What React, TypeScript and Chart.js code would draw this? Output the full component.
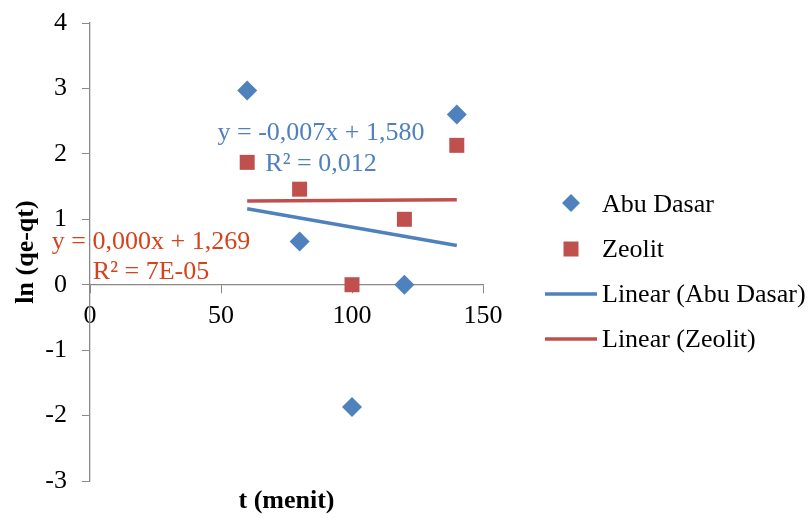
import React, { useEffect, useRef } from "react";
import { Chart, registerables } from "chart.js";

Chart.register(...registerables);

// ---- data ----
const timeMinutes = [60, 80, 100, 120, 140];
const abuDasarValues = [2.97, 0.66, -1.87, 0, 2.6];
const zeolitValues = [1.87, 1.46, 0, 1.0, 2.13];
const trendRange = [60, 140];
const abuDasarTrendCoef = [-0.007, 1.58]; // slope, intercept
const zeolitTrendCoef = [0.0002, 1.269];
const xTickValues = [0, 50, 100, 150];
const yTickValues = [-3, -2, -1, 0, 1, 2, 3, 4];
const seriesNames = ["Abu Dasar", "Zeolit", "Linear (Abu Dasar)", "Linear (Zeolit)"];
const abuDasarLabel = ["y = -0,007x + 1,580", "R² = 0,012"];
const zeolitLabel = ["y = 0,000x + 1,269", "R² = 7E-05"];
const xTitle = "t (menit)";
const yTitle = "ln (qe-qt)";

const BLUE = "#4F81BD";
const RED = "#C0504D";
const RED_TEXT = "#D5431C";
const AXIS = "#898989";
const FONT = "'Liberation Serif', 'Times New Roman', serif";

const trendPoints = (coef: number[]) =>
  trendRange.map((x) => ({ x, y: coef[0] * x + coef[1] }));

const overlayPlugin = {
  id: "overlay",
  afterDraw(chart: any) {
    const ctx = chart.ctx as CanvasRenderingContext2D;
    const area = chart.chartArea;
    ctx.save();
    // axis titles
    ctx.fillStyle = "#000";
    ctx.font = `bold 26px ${FONT}`;
    ctx.textAlign = "center";
    ctx.textBaseline = "alphabetic";
    ctx.fillText(xTitle, (area.left + area.right) / 2, 508);
    ctx.save();
    ctx.translate(33, (area.top + area.bottom) / 2);
    ctx.rotate(-Math.PI / 2);
    ctx.fillText(yTitle, 0, 0);
    ctx.restore();

    // trendline labels
    ctx.font = `26px ${FONT}`;
    ctx.fillStyle = BLUE;
    ctx.fillText(abuDasarLabel[0], 321, 140);
    ctx.fillText(abuDasarLabel[1], 321, 171);
    ctx.fillStyle = RED_TEXT;
    ctx.fillText(zeolitLabel[0], 151, 249);
    ctx.fillText(zeolitLabel[1], 151, 279);

    // legend
    const lx = 571;
    const tx = 602;
    const baselines = [212, 257, 302, 347];
    const centers = [203, 249, 294, 339];
    ctx.fillStyle = BLUE;
    ctx.beginPath();
    ctx.moveTo(lx, centers[0] - 9);
    ctx.lineTo(lx + 9, centers[0]);
    ctx.lineTo(lx, centers[0] + 9);
    ctx.lineTo(lx - 9, centers[0]);
    ctx.closePath();
    ctx.fill();
    ctx.fillStyle = RED;
    ctx.fillRect(lx - 7.5, centers[1] - 7.5, 15, 15);
    ctx.lineWidth = 3.5;
    ctx.strokeStyle = BLUE;
    ctx.beginPath();
    ctx.moveTo(545, centers[2]);
    ctx.lineTo(597, centers[2]);
    ctx.stroke();
    ctx.strokeStyle = RED;
    ctx.beginPath();
    ctx.moveTo(545, centers[3]);
    ctx.lineTo(597, centers[3]);
    ctx.stroke();
    ctx.fillStyle = "#000";
    ctx.textAlign = "left";
    seriesNames.forEach((name, i) => ctx.fillText(name, tx, baselines[i]));
    ctx.restore();
  },
};

export default function App() {
  const canvasRef = useRef<HTMLCanvasElement | null>(null);

  useEffect(() => {
    document.body.style.margin = "0";
    const canvas = canvasRef.current;
    if (!canvas) return;
    const chart = new Chart(canvas, {
      type: "scatter",
      data: {
        datasets: [
          {
            label: seriesNames[0],
            data: timeMinutes.map((x, i) => ({ x, y: abuDasarValues[i] })),
            pointStyle: "rectRot",
            pointRadius: 10,
            backgroundColor: BLUE,
            borderColor: BLUE,
            borderWidth: 0,
            order: 1,
          },
          {
            label: seriesNames[1],
            data: timeMinutes.map((x, i) => ({ x, y: zeolitValues[i] })),
            pointStyle: "rect",
            pointRadius: 10.6,
            backgroundColor: RED,
            borderColor: RED,
            borderWidth: 0,
            order: 2,
          },
          {
            label: seriesNames[2],
            data: trendPoints(abuDasarTrendCoef),
            showLine: true,
            pointRadius: 0,
            borderColor: BLUE,
            borderWidth: 3.5,
            order: 3,
          },
          {
            label: seriesNames[3],
            data: trendPoints(zeolitTrendCoef),
            showLine: true,
            pointRadius: 0,
            borderColor: RED,
            borderWidth: 3.5,
            order: 4,
          },
        ],
      },
      options: {
        responsive: false,
        animation: false,
        devicePixelRatio: 1,
        layout: { padding: { left: 0, top: 23, right: 329, bottom: 37 } },
        plugins: { legend: { display: false }, tooltip: { enabled: false } },
        scales: {
          x: {
            type: "linear",
            position: { y: 0 } as any,
            min: 0,
            max: 150,
            afterBuildTicks: (scale: any) => {
              scale.ticks = xTickValues.map((value) => ({ value }));
            },
            afterFit: (scale: any) => {
              scale.paddingLeft = 0;
              scale.paddingRight = 0;
            },
            ticks: { color: "#000", font: { family: FONT, size: 26 }, padding: 8 },
            grid: { drawOnChartArea: false, drawTicks: true, tickLength: 8, color: AXIS },
            border: { display: true, color: AXIS, width: 1.3 },
          },
          y: {
            type: "linear",
            position: "left",
            min: -3,
            max: 4,
            afterBuildTicks: (scale: any) => {
              scale.ticks = yTickValues.map((value) => ({ value }));
            },
            afterFit: (scale: any) => {
              scale.width = 90;
              scale.paddingTop = 0;
              scale.paddingBottom = 0;
            },
            ticks: { color: "#000", font: { family: FONT, size: 26 }, padding: 15 },
            grid: { drawOnChartArea: false, drawTicks: true, tickLength: 8, color: AXIS },
            border: { display: true, color: AXIS, width: 1.3 },
          },
        },
      },
      plugins: [overlayPlugin],
    });
    return () => chart.destroy();
  }, []);

  return (
    <div style={{ width: 812, height: 518, background: "#fff" }}>
      <canvas ref={canvasRef} width={812} height={518} />
    </div>
  );
}
